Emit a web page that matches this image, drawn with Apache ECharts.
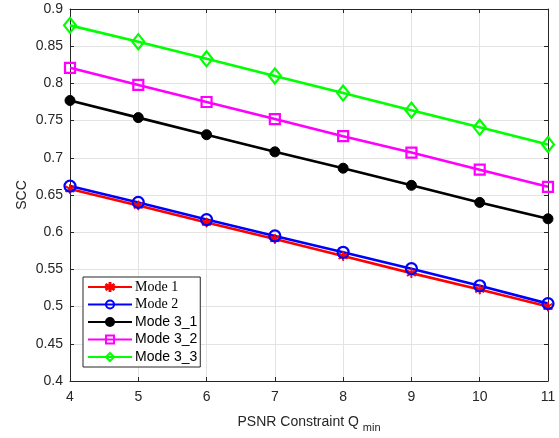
<!DOCTYPE html>
<html>
<head>
<meta charset="utf-8">
<script src="https://cdn.jsdelivr.net/npm/echarts@6/dist/echarts.min.js"></script>
<style>
  html, body { margin: 0; padding: 0; background: #fff; }
  #chart { width: 559px; height: 438px; }
</style>
</head>
<body>
<div id="chart"></div>
<script>
// PSNR constraint Q_min values on the x axis
const qMin = [4, 5, 6, 7, 8, 9, 10, 11];

// SCC per mode
const mode1 = [0.658, 0.636, 0.613, 0.591, 0.568, 0.545, 0.523, 0.500];
const mode2 = [0.662, 0.640, 0.617, 0.595, 0.573, 0.551, 0.528, 0.504];
const mode31 = [0.777, 0.754, 0.731, 0.708, 0.686, 0.663, 0.640, 0.618];
const mode32 = [0.821, 0.798, 0.775, 0.752, 0.729, 0.707, 0.684, 0.661];
const mode33 = [0.878, 0.856, 0.833, 0.810, 0.787, 0.764, 0.741, 0.718];

const seriesNames = ['Mode 1', 'Mode 2', 'Mode 3_1', 'Mode 3_2', 'Mode 3_3'];

const axisColor = '#262626';
const gridColor = '#e3e3e3';
const font = 'Liberation Sans, Arial, sans-serif';

const chart = echarts.init(document.getElementById('chart'));

const pair = (ys) => qMin.map((x, i) => [x, ys[i]]);

// MATLAB-like asterisk marker
const starPath = 'path://M-1,-10L1,-10L1,-2.4L7.3,-6.8L8.4,-5L2,0L8.4,5L7.3,6.8L1,2.4L1,10L-1,10L-1,2.4L-7.3,6.8L-8.4,5L-2,0L-8.4,-5L-7.3,-6.8L-1,-2.4Z';

function makeSeries(name, data, color, symbol, size, filled) {
  return {
    name: name,
    type: 'line',
    data: pair(data),
    symbol: symbol,
    symbolSize: size,
    showSymbol: true,
    lineStyle: { color: color, width: 2.6 },
    itemStyle: filled
      ? { color: color, borderColor: color, borderWidth: 1 }
      : { color: 'rgba(0,0,0,0)', borderColor: color, borderWidth: 2.2 },
    emphasis: { disabled: true },
    z: 3
  };
}

const valueAxisCommon = {
  axisLine: { show: true, lineStyle: { color: axisColor, width: 1 } },
  axisTick: { show: true, inside: true, length: 4, lineStyle: { color: axisColor } }
};

const option = {
  animation: false,
  backgroundColor: '#fff',
  grid: { left: 70, right: 11, top: 9, bottom: 55 },
  xAxis: [
    Object.assign({}, valueAxisCommon, {
      type: 'value',
      min: 4,
      max: 11,
      interval: 1,
      name: 'PSNR Constraint Q {sub|min}',
      nameLocation: 'middle',
      nameGap: 31,
      nameMoveOverlap: false,
      nameTextStyle: {
        color: axisColor, fontFamily: font, fontSize: 14,
        rich: { sub: { fontSize: 11, fontFamily: font, color: axisColor, padding: [10, 0, 0, 0] } }
      },
      axisLabel: { color: axisColor, fontFamily: font, fontSize: 14, margin: 9 },
      splitLine: { show: true, lineStyle: { color: gridColor, width: 1 } }
    }),
    Object.assign({}, valueAxisCommon, {
      type: 'value', position: 'top', min: 4, max: 11, interval: 1,
      axisLabel: { show: false }, splitLine: { show: false }
    })
  ],
  yAxis: [
    Object.assign({}, valueAxisCommon, {
      type: 'value',
      min: 0.4,
      max: 0.9,
      interval: 0.05,
      name: 'SCC',
      nameLocation: 'middle',
      nameGap: 41,
      nameMoveOverlap: false,
      nameTextStyle: { color: axisColor, fontFamily: font, fontSize: 14 },
      axisLabel: {
        color: axisColor, fontFamily: font, fontSize: 14, margin: 7,
        formatter: (v) => String(+v.toFixed(2))
      },
      splitLine: { show: true, lineStyle: { color: gridColor, width: 1 } }
    }),
    Object.assign({}, valueAxisCommon, {
      type: 'value', position: 'right', min: 0.4, max: 0.9, interval: 0.05,
      axisLabel: { show: false }, splitLine: { show: false }
    })
  ],
  legend: {
    data: seriesNames,
    orient: 'vertical',
    left: 83,
    top: 277,
    padding: [3, 3, 3, 4],
    itemWidth: 44,
    itemHeight: 10,
    itemGap: 3.5,
    backgroundColor: '#fff',
    borderColor: axisColor,
    borderWidth: 1,
    borderRadius: 0,
    formatter: (name) => (name === 'Mode 1' || name === 'Mode 2')
      ? '{serif|' + name + '}'
      : '{sans|' + name + '}',
    textStyle: {
      color: '#000',
      padding: [0, 0, 0, -2],
      rich: {
        serif: { fontFamily: 'Liberation Serif, Times New Roman, serif', fontSize: 14, lineHeight: 16, color: '#000' },
        sans: { fontFamily: font, fontSize: 14, lineHeight: 16, color: '#000' }
      }
    }
  },
  series: [
    makeSeries('Mode 1', mode1, '#ff0000', starPath, 9, true),
    makeSeries('Mode 2', mode2, '#0000ff', 'circle', 11, false),
    makeSeries('Mode 3_1', mode31, '#000000', 'circle', 10, true),
    makeSeries('Mode 3_2', mode32, '#ff00ff', 'rect', 10, false),
    makeSeries('Mode 3_3', mode33, '#00ff00', 'diamond', [12, 15], false)
  ]
};

chart.setOption(option);
</script>
</body>
</html>
